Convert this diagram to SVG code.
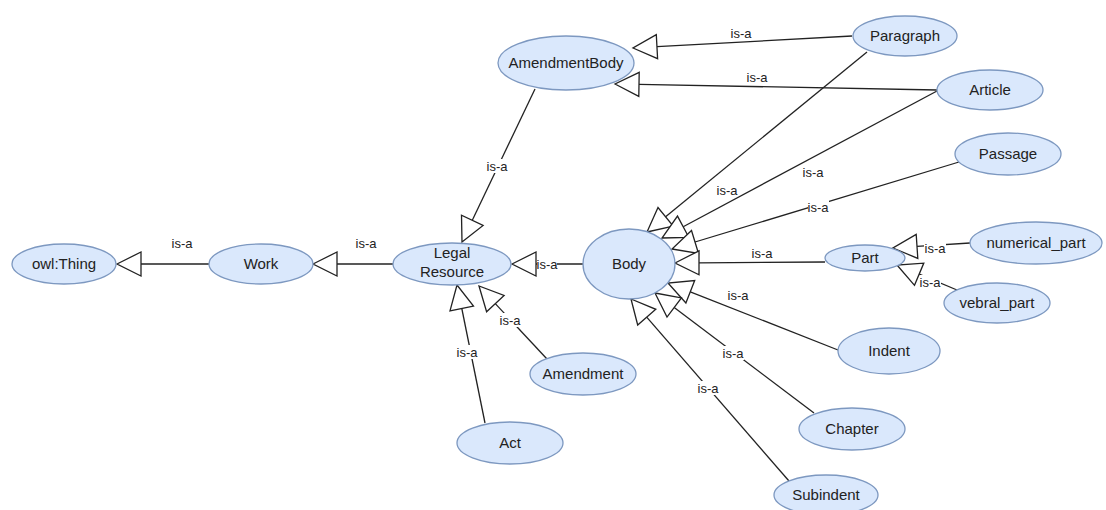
<svg xmlns="http://www.w3.org/2000/svg" width="1106" height="510" viewBox="0 0 1106 510">
<style>
.node ellipse{fill:#dae8fc;stroke:#7d98c0;stroke-width:1.3}
.node text{font-family:"Liberation Sans",Arial,sans-serif;font-size:15px;fill:#222;text-anchor:middle}
.edges line{stroke:#222;stroke-width:1.3}
.edges polygon{fill:#fff;stroke:#222;stroke-width:1.3;stroke-linejoin:miter}
.lbl{font-family:"Liberation Sans",Arial,sans-serif;font-size:13px;fill:#222;text-anchor:middle}
.bg{fill:#fff}
</style>
<rect width="1106" height="510" fill="#fff"/>
<g id="connectors" class="edges">
  <!-- Work -> owl:Thing -->
  <line x1="141" y1="264" x2="209" y2="264"/>
  <polygon points="117,264 141,252 141,276"/>
  <!-- Legal -> Work -->
  <line x1="337" y1="264" x2="393" y2="264"/>
  <polygon points="313,264 337,252 337,276"/>
  <!-- Body -> Legal -->
  <line x1="536" y1="264" x2="583" y2="264"/>
  <polygon points="512,264 536,252 536,276"/>
  <!-- AmendmentBody -> Legal -->
  <line x1="472.3" y1="220.3" x2="535" y2="89"/>
  <polygon points="462,242 483.1,225.5 461.5,215.2"/>
  <!-- Act -> Legal -->
  <line x1="461.8" y1="308.5" x2="485" y2="423"/>
  <polygon points="457,285 450,310.9 473.5,306.1"/>
  <!-- Amendment -> Legal -->
  <line x1="495.3" y1="303.6" x2="547" y2="359"/>
  <polygon points="479,286 486.6,311.8 504.1,295.4"/>
  <!-- Paragraph -> AmendmentBody -->
  <line x1="657" y1="46.7" x2="852" y2="36"/>
  <polygon points="633,48 657.6,58.7 656.3,34.7"/>
  <!-- Article -> AmendmentBody -->
  <line x1="639" y1="84.4" x2="937" y2="90"/>
  <polygon points="615,84 638.8,96.4 639.2,72.4"/>
  <!-- Paragraph -> Body -->
  <line x1="665.6" y1="216.8" x2="867" y2="52"/>
  <polygon points="647,232 673.2,226.1 658,207.5"/>
  <!-- Article -> Body -->
  <line x1="683.2" y1="226.7" x2="937" y2="91"/>
  <polygon points="662,238 688.8,237.3 677.5,216.1"/>
  <!-- Passage -> Body -->
  <line x1="695" y1="242" x2="959" y2="162"/>
  <polygon points="672,249 698.5,253.5 691.5,230.5"/>
  <!-- Part -> Body -->
  <line x1="699" y1="262.8" x2="825" y2="262"/>
  <polygon points="675,263 699,250.8 699,274.8"/>
  <!-- Indent -> Body -->
  <line x1="690.3" y1="291.8" x2="838" y2="350"/>
  <polygon points="668,283 685.9,303 694.7,280.6"/>
  <!-- Chapter -> Body -->
  <line x1="674.2" y1="307.5" x2="814" y2="413"/>
  <polygon points="655,293 667,317.1 681.4,297.9"/>
  <!-- Subindent -> Body -->
  <line x1="646.7" y1="317.1" x2="789" y2="481"/>
  <polygon points="631,299 637.7,325 655.8,309.3"/>
  <!-- numerical_part -> Part -->
  <line x1="917" y1="246.4" x2="970" y2="243"/>
  <polygon points="893,248 917.8,258.4 916.2,234.4"/>
  <!-- vebral_part -> Part -->
  <line x1="919.2" y1="274.2" x2="957" y2="290"/>
  <polygon points="897,265 914.5,285.3 923.8,263.1"/>
  <!-- labels -->
  <text class="lbl" x="182" y="247.5">is-a</text>
  <text class="lbl" x="366" y="247.5">is-a</text>
  <rect class="bg" x="537" y="257" width="20" height="14"/>
  <text class="lbl" x="547" y="268.5">is-a</text>
  <rect class="bg" x="487" y="159" width="21" height="14"/>
  <text class="lbl" x="497" y="170.5">is-a</text>
  <rect class="bg" x="457" y="345" width="21" height="14"/>
  <text class="lbl" x="467" y="356.5">is-a</text>
  <rect class="bg" x="500" y="313" width="21" height="14"/>
  <text class="lbl" x="510" y="324.5">is-a</text>
  <text class="lbl" x="741" y="37.5">is-a</text>
  <text class="lbl" x="757" y="81.5">is-a</text>
  <text class="lbl" x="727" y="194.5">is-a</text>
  <rect class="bg" x="803" y="164" width="21" height="15"/>
  <text class="lbl" x="813" y="176.5">is-a</text>
  <rect class="bg" x="808" y="200" width="21" height="14"/>
  <text class="lbl" x="818" y="211.5">is-a</text>
  <text class="lbl" x="762" y="257.5">is-a</text>
  <text class="lbl" x="738" y="299.5">is-a</text>
  <rect class="bg" x="723" y="346" width="21" height="14"/>
  <text class="lbl" x="733" y="357.5">is-a</text>
  <rect class="bg" x="698" y="381" width="21" height="14"/>
  <text class="lbl" x="708" y="392.5">is-a</text>
  <rect class="bg" x="924" y="241" width="22" height="14"/>
  <text class="lbl" x="935" y="252.5">is-a</text>
  <rect class="bg" x="920" y="275" width="21" height="14"/>
  <text class="lbl" x="930" y="286.5">is-a</text>
</g>
<g id="owlThing" class="node"><ellipse cx="64" cy="264" rx="52" ry="20"/><text x="64" y="269">owl:Thing</text></g>
<g id="Work" class="node"><ellipse cx="261" cy="264" rx="52" ry="20"/><text x="261" y="269">Work</text></g>
<g id="LegalResource" class="node"><ellipse cx="452" cy="264" rx="59" ry="21"/><text x="452" y="258">Legal</text><text x="452" y="277">Resource</text></g>
<g id="Body" class="node"><ellipse cx="629" cy="264" rx="46" ry="35"/><text x="629" y="269">Body</text></g>
<g id="AmendmentBody" class="node"><ellipse cx="566" cy="63" rx="68" ry="27"/><text x="566" y="68">AmendmentBody</text></g>
<g id="Paragraph" class="node"><ellipse cx="905" cy="36" rx="52" ry="20"/><text x="905" y="41">Paragraph</text></g>
<g id="Article" class="node"><ellipse cx="990" cy="90" rx="53" ry="20"/><text x="990" y="95">Article</text></g>
<g id="Passage" class="node"><ellipse cx="1008" cy="154" rx="53" ry="21"/><text x="1008" y="159">Passage</text></g>
<g id="Part" class="node"><ellipse cx="865" cy="258" rx="40" ry="13"/><text x="865" y="263">Part</text></g>
<g id="numerical_part" class="node"><ellipse cx="1036" cy="243" rx="66" ry="21"/><text x="1036" y="248">numerical_part</text></g>
<g id="vebral_part" class="node"><ellipse cx="997" cy="303" rx="53" ry="20"/><text x="997" y="308">vebral_part</text></g>
<g id="Indent" class="node"><ellipse cx="889" cy="351" rx="51" ry="23"/><text x="889" y="356">Indent</text></g>
<g id="Chapter" class="node"><ellipse cx="852" cy="429" rx="53" ry="21"/><text x="852" y="434">Chapter</text></g>
<g id="Subindent" class="node"><ellipse cx="826" cy="495" rx="52" ry="20"/><text x="826" y="500">Subindent</text></g>
<g id="Amendment" class="node"><ellipse cx="583" cy="374" rx="53" ry="21"/><text x="583" y="379">Amendment</text></g>
<g id="Act" class="node"><ellipse cx="510" cy="443" rx="53" ry="21"/><text x="510" y="448">Act</text></g>
</svg>
